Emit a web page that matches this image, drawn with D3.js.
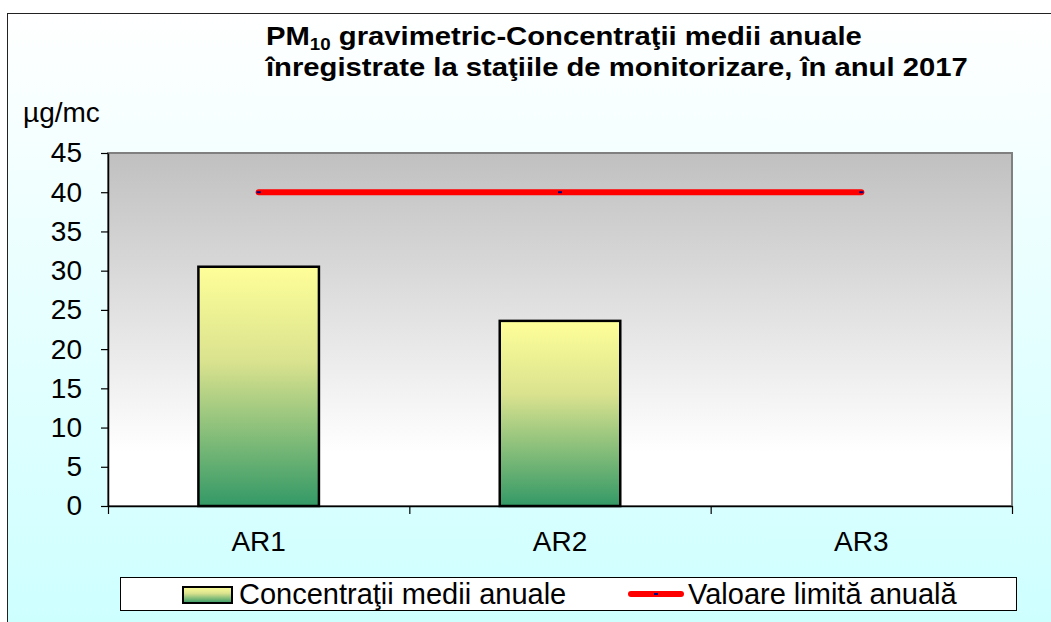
<!DOCTYPE html>
<html>
<head>
<meta charset="utf-8">
<script src="https://cdn.jsdelivr.net/npm/d3@7"></script>
<style>
  body { margin: 0; background: #fff; }
  text { font-family: "Liberation Sans", Arial, sans-serif; fill: #000; }
</style>
</head>
<body>
<div class="vis-chart"></div>
<script>
const categories = ['AR1', 'AR2', 'AR3'];
const concentrations = [30.5, 23.6, null];
const limitValues = [40, 40, 40];
const yTicks = [0, 5, 10, 15, 20, 25, 30, 35, 40, 45];
const seriesNames = ['Concentraţii medii anuale', 'Valoare limită anuală'];
const yLabel = 'µg/mc';

const drawchart = () => {
    const W = 1051, H = 622;
    const plot = {left: 108, top: 153, right: 1012, bottom: 506};

    let svg = d3.select('.vis-chart').append('svg')
        .attr('width', W)
        .attr('height', H);

    let defs = svg.append('defs');
    let bgGrad = defs.append('linearGradient').attr('id', 'bg')
        .attr('x1', 0).attr('y1', 0).attr('x2', 0).attr('y2', 1);
    bgGrad.append('stop').attr('offset', '0%').attr('stop-color', '#ffffff');
    bgGrad.append('stop').attr('offset', '100%').attr('stop-color', '#ccffff');

    let plotGrad = defs.append('linearGradient').attr('id', 'plotbg')
        .attr('x1', 0).attr('y1', 0).attr('x2', 0).attr('y2', 1);
    plotGrad.append('stop').attr('offset', '0%').attr('stop-color', '#c0c0c0');
    plotGrad.append('stop').attr('offset', '85%').attr('stop-color', '#ffffff');
    plotGrad.append('stop').attr('offset', '100%').attr('stop-color', '#ffffff');

    let barGrad = defs.append('linearGradient').attr('id', 'bargrad')
        .attr('x1', 0).attr('y1', 0).attr('x2', 0).attr('y2', 1);
    barGrad.append('stop').attr('offset', '0%').attr('stop-color', '#ffff99');
    barGrad.append('stop').attr('offset', '40%').attr('stop-color', '#d9e28e');
    barGrad.append('stop').attr('offset', '100%').attr('stop-color', '#339966');

    // outer chart area
    svg.append('rect')
        .attr('x', 7.5).attr('y', 13.5)
        .attr('width', W + 10).attr('height', H + 10)
        .attr('fill', 'url(#bg)')
        .attr('stroke', '#222')
        .attr('stroke-width', 1);

    // title (stretched horizontally like the original)
    let title = svg.append('text')
        .attr('transform', 'translate(266,0) scale(1.17,1)')
        .attr('font-weight', 'bold')
        .attr('font-size', 25);
    let l1 = title.append('tspan').attr('x', 0).attr('y', 45);
    l1.append('tspan').text('PM');
    l1.append('tspan').attr('font-size', 16).attr('dy', 5).text('10');
    l1.append('tspan').attr('dy', -5).text(' gravimetric-Concentraţii medii anuale');
    title.append('tspan').attr('x', 0).attr('y', 76)
        .text('înregistrate la staţiile de monitorizare, în anul 2017');

    // plot area
    svg.append('rect')
        .attr('x', plot.left).attr('y', plot.top)
        .attr('width', plot.right - plot.left)
        .attr('height', plot.bottom - plot.top)
        .attr('fill', 'url(#plotbg)')
        .attr('stroke', '#808080')
        .attr('stroke-width', 2);

    let y = d3.scaleLinear()
        .domain([0, 45])
        .range([plot.bottom, plot.top]);

    let x = d3.scaleBand()
        .domain(categories)
        .range([plot.left, plot.right])
        .paddingInner(0.6)
        .paddingOuter(0.3);

    let xc = d3.scalePoint()
        .domain(categories)
        .range([plot.left, plot.right])
        .padding(0.5);

    let xb = d3.scaleLinear()
        .domain([0, categories.length])
        .range([plot.left, plot.right]);

    // bars
    let barData = categories.map((c, i) => ({cat: c, v: concentrations[i]}))
        .filter(d => d.v !== null);
    svg.selectAll('.bar')
        .data(barData)
        .enter().append('rect')
        .attr('class', 'bar')
        .attr('x', d => x(d.cat))
        .attr('width', x.bandwidth())
        .attr('y', d => y(d.v))
        .attr('height', d => y(0) - y(d.v))
        .attr('fill', 'url(#bargrad)')
        .attr('stroke', '#000')
        .attr('stroke-width', 2.5);

    // limit line
    let lineData = categories.map((c, i) => ({cat: c, v: limitValues[i]}));
    svg.append('path')
        .datum(lineData)
        .attr('fill', 'none')
        .attr('stroke', '#ff0000')
        .attr('stroke-width', 6)
        .attr('stroke-linecap', 'round')
        .attr('d', d3.line().x(d => xc(d.cat)).y(d => y(d.v)));
    svg.selectAll('.mark')
        .data(lineData)
        .enter().append('rect')
        .attr('class', 'mark')
        .attr('x', d => xc(d.cat) - 2)
        .attr('y', d => y(d.v) - 1)
        .attr('width', 4).attr('height', 2)
        .attr('fill', '#000080');

    // y axis
    let yAxis = svg.append('g')
        .attr('transform', 'translate(' + plot.left + ',0)')
        .call(d3.axisLeft(y).tickValues(yTicks).tickSize(7).tickPadding(19).tickSizeOuter(0));
    yAxis.select('.domain').attr('stroke', '#000').attr('stroke-width', 1.5);
    yAxis.selectAll('.tick line').attr('stroke', '#000').attr('stroke-width', 1.2);
    yAxis.selectAll('text').attr('font-size', 28).attr('font-family', '"Liberation Sans", Arial, sans-serif');

    // x axis
    let xAxis = svg.append('g')
        .attr('transform', 'translate(0,' + plot.bottom + ')')
        .call(d3.axisBottom(xb).tickValues(d3.range(categories.length + 1)).tickSize(8).tickFormat('').tickSizeOuter(0));
    xAxis.select('.domain').attr('stroke', '#000').attr('stroke-width', 1.5);
    xAxis.selectAll('.tick line').attr('stroke', '#000').attr('stroke-width', 1.2);

    svg.selectAll('.xlabel')
        .data(categories)
        .enter().append('text')
        .attr('class', 'xlabel')
        .attr('x', d => xc(d))
        .attr('y', 551)
        .attr('text-anchor', 'middle')
        .attr('font-size', 28)
        .text(d => d);

    svg.append('text')
        .attr('x', 23).attr('y', 122)
        .attr('font-size', 28)
        .text(yLabel);

    // legend
    let legend = svg.append('g');
    legend.append('rect')
        .attr('x', 120.5).attr('y', 577.5)
        .attr('width', 896).attr('height', 33)
        .attr('fill', '#fff')
        .attr('stroke', '#000')
        .attr('stroke-width', 1);
    legend.append('rect')
        .attr('x', 183).attr('y', 587)
        .attr('width', 49).attr('height', 16)
        .attr('fill', 'url(#bargrad)')
        .attr('stroke', '#000')
        .attr('stroke-width', 2);
    legend.append('text')
        .attr('x', 239).attr('y', 604)
        .attr('font-size', 29)
        .text(seriesNames[0]);
    legend.append('line')
        .attr('x1', 631).attr('x2', 681)
        .attr('y1', 594).attr('y2', 594)
        .attr('stroke', '#ff0000')
        .attr('stroke-width', 6)
        .attr('stroke-linecap', 'round');
    legend.append('rect')
        .attr('x', 654).attr('y', 593)
        .attr('width', 4).attr('height', 2)
        .attr('fill', '#000080');
    legend.append('text')
        .attr('x', 688).attr('y', 604)
        .attr('font-size', 29)
        .text(seriesNames[1]);
};

drawchart();
</script>
</body>
</html>
